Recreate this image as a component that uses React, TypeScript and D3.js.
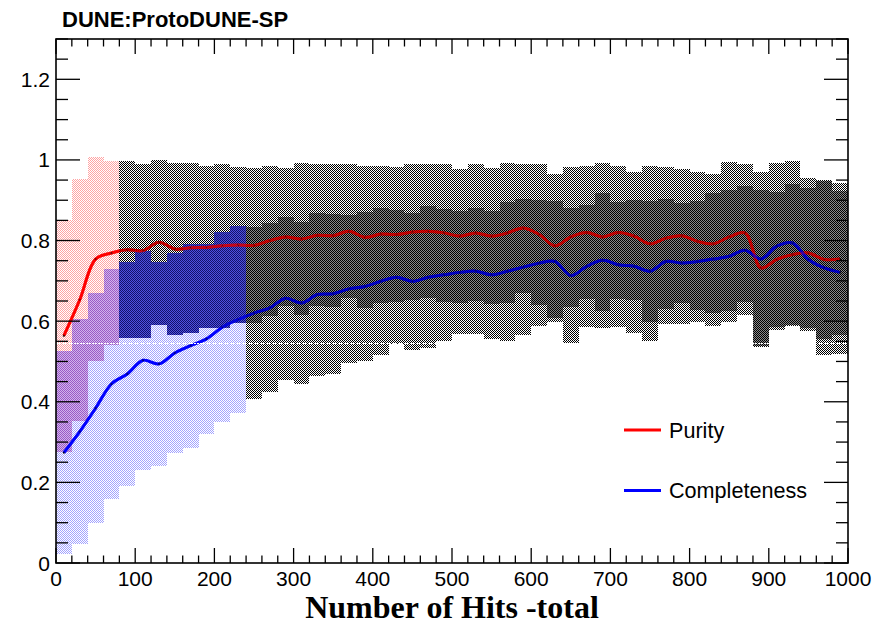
import React from "react";
import * as d3 from "d3";

// ---- data ----
const hitsBins = [10, 30, 50, 70, 90, 110, 130, 150, 170, 190, 210, 230, 250, 270, 290, 310, 330, 350, 370, 390, 410, 430, 450, 470, 490, 510, 530, 550, 570, 590, 610, 630, 650, 670, 690, 710, 730, 750, 770, 790, 810, 830, 850, 870, 890, 910, 930, 950, 970, 990];
const binHalfWidth = 10;

const purity = [0.564, 0.653, 0.754, 0.769, 0.777, 0.775, 0.796, 0.779, 0.782, 0.783, 0.787, 0.789, 0.788, 0.800, 0.809, 0.804, 0.813, 0.812, 0.823, 0.808, 0.816, 0.815, 0.821, 0.823, 0.819, 0.811, 0.819, 0.811, 0.819, 0.831, 0.815, 0.787, 0.809, 0.820, 0.809, 0.820, 0.811, 0.792, 0.806, 0.812, 0.798, 0.792, 0.809, 0.819, 0.732, 0.753, 0.765, 0.769, 0.753, 0.754];
const purityErr = [0.288, 0.300, 0.254, 0.228, 0.220, 0.216, 0.205, 0.214, 0.211, 0.201, 0.203, 0.194, 0.192, 0.186, 0.171, 0.189, 0.176, 0.178, 0.166, 0.176, 0.170, 0.168, 0.169, 0.166, 0.172, 0.167, 0.170, 0.169, 0.174, 0.160, 0.174, 0.179, 0.174, 0.166, 0.184, 0.166, 0.158, 0.194, 0.177, 0.166, 0.171, 0.172, 0.185, 0.172, 0.193, 0.167, 0.176, 0.187, 0.197, 0.189];

const completeness = [0.274, 0.326, 0.384, 0.444, 0.469, 0.503, 0.494, 0.521, 0.539, 0.556, 0.585, 0.604, 0.620, 0.633, 0.657, 0.645, 0.666, 0.668, 0.680, 0.686, 0.699, 0.709, 0.699, 0.709, 0.715, 0.721, 0.724, 0.715, 0.724, 0.734, 0.744, 0.748, 0.713, 0.736, 0.751, 0.740, 0.736, 0.724, 0.748, 0.744, 0.748, 0.754, 0.761, 0.776, 0.754, 0.786, 0.794, 0.753, 0.732, 0.721];
const completenessErr = [0.252, 0.280, 0.285, 0.286, 0.278, 0.272, 0.253, 0.247, 0.253, 0.236, 0.236, 0.232, 0.213, 0.210, 0.202, 0.201, 0.202, 0.199, 0.184, 0.184, 0.182, 0.166, 0.170, 0.176, 0.163, 0.153, 0.156, 0.159, 0.172, 0.168, 0.157, 0.151, 0.167, 0.151, 0.168, 0.155, 0.165, 0.173, 0.154, 0.150, 0.151, 0.165, 0.164, 0.160, 0.217, 0.207, 0.203, 0.177, 0.215, 0.202];

// bands are coloured below these hit counts, black above
const purityColourLimit = 80;
const completenessColourLimit = 240;
const whiteLineLevel = 0.546;

const xTicks = [0, 100, 200, 300, 400, 500, 600, 700, 800, 900, 1000];
const yTicks = [0, 0.2, 0.4, 0.6, 0.8, 1, 1.2];
const seriesNames = ["Purity", "Completeness"];

const W = 877;
const H = 626;
const SANS = "'Liberation Sans', Arial, Helvetica, sans-serif";

// 2x2 checker tile: optional full-tile background, then pixels (0,0) and (1,1)
function Checker({ id, color, bg }: { id: string; color: string; bg?: string }) {
  return (
    <pattern id={id} width={2} height={2} patternUnits="userSpaceOnUse">
      {bg ? <rect x={0} y={0} width={2} height={2} fill={bg} shapeRendering="crispEdges" /> : null}
      <rect x={0} y={0} width={1} height={1} fill={color} shapeRendering="crispEdges" />
      <rect x={1} y={1} width={1} height={1} fill={color} shapeRendering="crispEdges" />
    </pattern>
  );
}

export default function App() {
  const x = d3.scaleLinear().domain([0, 1000]).range([56, 848]);
  const y = d3.scaleLinear().domain([0, 1.3]).range([563, 39]);
  const [x0, x1] = x.range();
  const [yb, yt] = y.range();

  const curve = (vals: number[]) =>
    d3
      .line<number>()
      .x((_, i) => x(hitsBins[i]))
      .y((d) => y(d))
      .curve(d3.curveCatmullRom.alpha(0.5))(vals) as string;

  const binRect = (i: number, lo: number, hi: number, fill: string, key: string) => {
    const h = hitsBins[i];
    const xa = Math.round(x(h - binHalfWidth));
    const xb = Math.round(x(h + binHalfWidth));
    const ya = Math.round(y(hi));
    const yb2 = Math.round(y(Math.max(0, lo)));
    if (yb2 <= ya) return null;
    return <rect key={key + i} x={xa} y={ya} width={xb - xa} height={yb2 - ya} fill={fill} shapeRendering="crispEdges" />;
  };

  const pLo = (i: number) => purity[i] - purityErr[i];
  const pHi = (i: number) => purity[i] + purityErr[i];
  const cLo = (i: number) => completeness[i] - completenessErr[i];
  const cHi = (i: number) => completeness[i] + completenessErr[i];

  const bands = (which: "p" | "c", filter: (h: number) => boolean, fill: string, key: string) =>
    hitsBins.map((h, i) =>
      filter(h) ? binRect(i, which === "p" ? pLo(i) : cLo(i), which === "p" ? pHi(i) : cHi(i), fill, key) : null
    );

  const overlaps = (filter: (h: number) => boolean, fill: string, key: string) =>
    hitsBins.map((h, i) =>
      filter(h) ? binRect(i, Math.max(pLo(i), cLo(i)), Math.min(pHi(i), cHi(i)), fill, key) : null
    );

  const pBlack = (h: number) => h > purityColourLimit;
  const cBlack = (h: number) => h > completenessColourLimit;

  const xMinor = d3.range(0, 1001, 20);
  const yMinor = d3.range(0, 1.3001, 0.05);
  const wl = Math.round(y(whiteLineLevel)) + 0.5;

  const purityPath = curve(purity);
  const completenessPath = curve(completeness);

  return (
    <svg width={W} height={H} style={{ position: "absolute", left: 0, top: 0, background: "white" }}>
      <defs>
        <Checker id="chkBlack" color="#000000" />
        <Checker id="chkRed" color="#ffa3a3" />
        <Checker id="chkBlue" color="#a3a3ff" />
        <Checker id="chkPurple" color="#9a5ac6" bg="#d2b4ec" />
        <Checker id="chkNavy" color="#16166e" bg="#5050e0" />
        <Checker id="chkNavyTop" color="#12126a" />
        <pattern id="chkDense" width={4} height={4} patternUnits="userSpaceOnUse">
          <rect x={0} y={0} width={4} height={4} fill="#8a8a8a" shapeRendering="crispEdges" />
          <rect x={0} y={0} width={1} height={1} fill="#000" shapeRendering="crispEdges" />
          <rect x={2} y={0} width={1} height={1} fill="#000" shapeRendering="crispEdges" />
          <rect x={1} y={1} width={1} height={1} fill="#000" shapeRendering="crispEdges" />
          <rect x={3} y={1} width={1} height={1} fill="#000" shapeRendering="crispEdges" />
          <rect x={0} y={2} width={1} height={1} fill="#000" shapeRendering="crispEdges" />
          <rect x={2} y={2} width={1} height={1} fill="#000" shapeRendering="crispEdges" />
          <rect x={1} y={3} width={1} height={1} fill="#000" shapeRendering="crispEdges" />
          <rect x={3} y={3} width={1} height={1} fill="#000" shapeRendering="crispEdges" />
        </pattern>
        <clipPath id="frameClip">
          <rect x={x0} y={yt} width={x1 - x0} height={yb - yt} />
        </clipPath>
      </defs>

      <g clipPath="url(#frameClip)">
        {/* coloured bands and their overlaps */}
        {bands("p", (h) => !pBlack(h), "url(#chkRed)", "pr")}
        {bands("c", (h) => !cBlack(h), "url(#chkBlue)", "cbl")}
        {overlaps((h) => !pBlack(h) && !cBlack(h), "url(#chkPurple)", "pu")}
        {overlaps((h) => pBlack(h) && !cBlack(h), "url(#chkNavy)", "nv")}
        {/* darker core where both black bands overlap */}
        {overlaps((h) => pBlack(h) && cBlack(h), "url(#chkDense)", "ov")}

        {/* lines and markers */}
        <path d={purityPath} fill="none" stroke="#ff0000" strokeWidth={3} />
        <path d={completenessPath} fill="none" stroke="#0000ff" strokeWidth={3} />
        {hitsBins.map((h, i) => (
          <circle key={"mp" + i} cx={x(h)} cy={y(purity[i])} r={1.1} fill="#000" />
        ))}
        {hitsBins.map((h, i) => (
          <circle key={"mc" + i} cx={x(h)} cy={y(completeness[i])} r={1.1} fill="#000" />
        ))}

        {/* black bands over the lines */}
        {bands("p", pBlack, "url(#chkBlack)", "pb")}
        {bands("c", cBlack, "url(#chkBlack)", "cb")}
        {/* blue tint where the blue band covers the black purity band */}
        {overlaps((h) => pBlack(h) && !cBlack(h), "url(#chkNavyTop)", "nvt")}

        {/* lines show through the dotted black fill */}
        <path d={purityPath} fill="none" stroke="#ff0000" strokeWidth={3} strokeOpacity={0.5} />
        <path d={completenessPath} fill="none" stroke="#0000ff" strokeWidth={3} strokeOpacity={0.5} />

        <line x1={x0} x2={x1} y1={wl} y2={wl} stroke="#fff" strokeWidth={1} strokeDasharray="2,1" />
      </g>

      {/* frame */}
      <rect x={x0} y={yt} width={x1 - x0} height={yb - yt} fill="none" stroke="#000" strokeWidth={1.6} />

      {/* x ticks bottom and top */}
      {xMinor.map((v) => {
        const major = v % 100 === 0;
        const len = major ? 15 : 7.5;
        return (
          <g key={"xt" + v}>
            <line x1={x(v)} x2={x(v)} y1={yb} y2={yb - len} stroke="#000" strokeWidth={1.3} />
            <line x1={x(v)} x2={x(v)} y1={yt} y2={yt + len} stroke="#000" strokeWidth={1.3} />
          </g>
        );
      })}
      {/* y ticks left and right */}
      {yMinor.map((v, k) => {
        const major = k % 4 === 0;
        const len = major ? 24 : 12;
        return (
          <g key={"yt" + k}>
            <line x1={x0} x2={x0 + len} y1={y(v)} y2={y(v)} stroke="#000" strokeWidth={1.3} />
            <line x1={x1} x2={x1 - len} y1={y(v)} y2={y(v)} stroke="#000" strokeWidth={1.3} />
          </g>
        );
      })}

      {/* tick labels */}
      {xTicks.map((v) => (
        <text key={"xl" + v} x={x(v)} y={586} textAnchor="middle" fontFamily={SANS} fontSize={21} fill="#000">
          {d3.format("~g")(v)}
        </text>
      ))}
      {yTicks.map((v) => (
        <text key={"yl" + v} x={50} y={y(v) + 7.5} textAnchor="end" fontFamily={SANS} fontSize={21} fill="#000">
          {d3.format("~g")(v)}
        </text>
      ))}

      {/* titles */}
      <text x={62} y={27} fontFamily={SANS} fontWeight="bold" fontSize={22} fill="#000">
        DUNE:ProtoDUNE-SP
      </text>
      <text x={(x0 + x1) / 2} y={618} textAnchor="middle" fontFamily="'Liberation Serif', 'Times New Roman', serif" fontWeight="bold" fontSize={32} fill="#000">
        Number of Hits -total
      </text>

      {/* legend */}
      {seriesNames.map((name, k) => {
        const ly = 430 + k * 60.5;
        return (
          <g key={name}>
            <line x1={624} x2={661} y1={ly} y2={ly} stroke={k === 0 ? "#ff0000" : "#0000ff"} strokeWidth={3} />
            <text x={669} y={ly + 7.5} fontFamily={SANS} fontSize={21.6} fill="#000">
              {name}
            </text>
          </g>
        );
      })}
    </svg>
  );
}
